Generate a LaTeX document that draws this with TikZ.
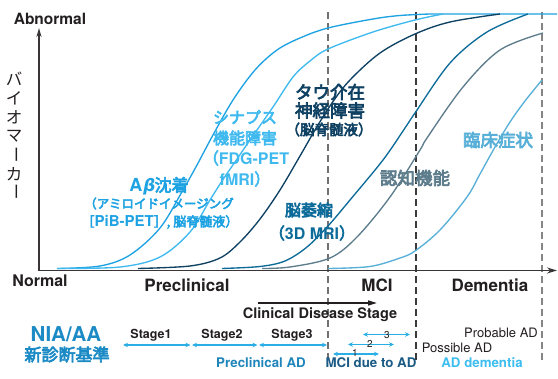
\documentclass[tikz,border=0pt]{standalone}
\usepackage{fontspec}
\setmainfont{TeX Gyre Heros}
\newfontfamily\jpr{Noto Sans CJK JP}
\newfontfamily\jp[FakeBold=4]{Noto Sans CJK JP}
\newfontfamily\grsl[FakeSlant=0.2]{DejaVu Sans}
\usetikzlibrary{arrows.meta}

\definecolor{cAb}{HTML}{1EA2E2}
\definecolor{cSyn}{HTML}{40BAEE}
\definecolor{cTau}{HTML}{0F4163}
\definecolor{cAtr}{HTML}{0D6B99}
\definecolor{cCog}{HTML}{5D7C8C}
\definecolor{cCli}{HTML}{58AFD7}
\definecolor{cStage}{HTML}{2AAEE6}
\definecolor{cNia}{HTML}{1B8AC5}
\definecolor{cPre}{HTML}{1F85BA}
\definecolor{cMci}{HTML}{1A5A84}
\definecolor{cDem}{HTML}{3DBDF0}
\definecolor{cTxt}{HTML}{231F20}
\definecolor{cDashA}{HTML}{707070}
\definecolor{cDashB}{HTML}{3A3A3A}
\definecolor{cDashC}{HTML}{858585}

\newcommand\fsz[1]{\fontsize{#1}{#1}\selectfont}

\begin{document}
\begin{tikzpicture}[x=1pt,y=-1pt,
  lab/.style={inner sep=0pt, outer sep=0pt},
  curve/.style={line width=1.35pt, smooth, tension=0.55},
  dashline/.style={line width=1.1pt, dash pattern=on 7pt off 4pt},
  stagearrow/.style={line width=1.1pt, cStage, {Stealth[length=5pt,width=4.5pt]}-{Stealth[length=5pt,width=4.5pt]}},
  ylab/.style={lab, font=\jpr\fsz{16.5}, text=cTxt},
  cjkb/.style={lab, font=\jp},
]
\useasboundingbox (0,0) rectangle (558,379);

% dashed stage boundaries
\coordinate (d1t) at (328,12); \coordinate (d1b) at (328,358);
\coordinate (d2t) at (416,12); \coordinate (d2b) at (416,360);
\coordinate (d3t) at (542,12); \coordinate (d3b) at (542,362);
\draw[dashline, cDashA] (d1t) -- (d1b);
\draw[dashline, cDashB] (d2t) -- (d2b);
\draw[dashline, cDashC] (d3t) -- (d3b);

% curves
\draw[curve, cAb] plot coordinates {(57,268.5) (100,266) (130,255) (160,228) (183,190) (197,165) (213,135) (233,100) (255,70) (277,50) (300,38) (328,28) (373,19) (400,15.5) (430,14)} -- (557,14);
\draw[curve, cSyn] plot coordinates {(57,268.5) (120,267) (160,257) (190,232) (210,200) (222,181) (235,162) (250,140) (273,107) (293,77) (310,61) (328,49) (373,32) (415,20) (443,14)};
\draw[curve, cTau] plot coordinates {(138,268.5) (190,266) (220,258) (240,242) (260,219) (280,190) (300,156) (315,130) (332,103) (350,80) (380,53) (415,34) (450,22) (500,14)};
\draw[curve, cAtr] plot coordinates {(222,268.5) (260,266.5) (285,261) (307,247) (328,226) (350,200) (383,160) (405,128) (415,113) (450,63) (487,32) (528,14)};
\draw[curve, cCog] plot coordinates {(262,268.5) (290,267) (330,258) (357,237) (390,197) (420,150) (427,138) (463,87) (500,50) (543,33)};
\draw[curve, cCli] plot coordinates {(328,268.5) (370,266.5) (400,258) (415,251) (440,230) (467,197) (480,174) (495,147) (510,122) (525,101) (542,80)};

% axes
\coordinate (Ytip) at (39,28);
\coordinate (O) at (39,270.5);
\coordinate (Xtip) at (557,270.5);
\draw[line width=1.6pt, cTxt!90, {Stealth[length=9pt,width=5pt]}-{Stealth[length=10pt,width=6pt]}] (Ytip) -- (O) -- (Xtip);

% y-axis label (vertical)
\node[ylab] (y1) at (14,79) {バ};
\node[ylab] (y2) at (14,98) {イ};
\node[ylab] (y3) at (14,117) {オ};
\node[ylab] (y4) at (14,136) {マ};
\node[ylab, rotate=-90] (y5) at (14,155) {ー};
\node[ylab] (y6) at (14,174) {カ};
\node[ylab, rotate=-90] (y7) at (14,192) {ー};

% axis texts
\node[lab, anchor=base, font=\bfseries\fsz{15.5}, text=cTxt] (abn) at (50,25) {Abnormal};
\node[lab, anchor=base, font=\bfseries\fsz{16}, text=cTxt] (nor) at (40,287) {Normal};
\node[lab, anchor=base, font=\bfseries\fsz{17}, text=cTxt] (pre) at (187,292) {Preclinical};
\node[lab, anchor=base, font=\bfseries\fsz{17}, text=cTxt] (mci) at (377,292) {MCI};
\node[lab, anchor=base, font=\bfseries\fsz{17}, text=cTxt] (dem) at (490,292) {Dementia};

% clinical disease stage arrow
\coordinate (cs1) at (258,303);
\coordinate (cs2) at (377,303);
\draw[line width=1.5pt, cTxt, -{Triangle[length=9pt,width=5pt]}] (cs1) -- (cs2);
\node[lab, anchor=base, font=\bfseries\fsz{14.5}, text=cTxt] (cds) at (320,319) {Clinical Disease Stage};

% NIA/AA
\node[lab, anchor=base, font=\bfseries\fsz{20.5}, text=cNia] (nia) at (66,342) {NIA/AA};
\node[cjkb, font=\jp\fsz{17}, text=cNia] (nia2) at (67,354.5) {新診断基準};

% stage arrows
\coordinate (s0) at (123,345); \coordinate (s1) at (190.5,345);
\coordinate (s1b) at (192,345); \coordinate (s2) at (257.5,345);
\coordinate (s2b) at (259,345); \coordinate (s3) at (327,345);
\draw[stagearrow] (s0) -- (s1);
\draw[stagearrow] (s1b) -- (s2);
\draw[stagearrow] (s2b) -- (s3);
\node[lab, anchor=base, font=\bfseries\fsz{12.5}, text=cTxt] (st1) at (151,339) {Stage1};
\node[lab, anchor=base, font=\bfseries\fsz{12.5}, text=cTxt] (st2) at (222,339) {Stage2};
\node[lab, anchor=base, font=\bfseries\fsz{12.5}, text=cTxt] (st3) at (292,339) {Stage3};

% MCI arrows
\coordinate (m1a) at (333,354); \coordinate (m1b) at (379,354);
\coordinate (m2a) at (348,344.5); \coordinate (m2b) at (394,344.5);
\coordinate (m3a) at (363,334.5); \coordinate (m3b) at (410,334.5);
\draw[stagearrow] (m1a) -- (m1b);
\draw[stagearrow] (m2a) -- (m2b);
\draw[stagearrow] (m3a) -- (m3b);
\node[lab, anchor=base, font=\fsz{10}, text=cTxt] (n1) at (355,356.5) {1};
\node[lab, anchor=base, font=\fsz{10}, text=cTxt] (n2) at (370,347.5) {2};
\node[lab, anchor=base, font=\fsz{10}, text=cTxt] (n3) at (387,338.5) {3};

\node[lab, anchor=base, font=\fsz{13}, text=cTxt] (prob) at (501,338) {Probable AD};
\node[lab, anchor=base, font=\fsz{13}, text=cTxt] (poss) at (457,353) {Possible AD};

% bottom category labels
\node[lab, anchor=base, font=\bfseries\fsz{13.3}, text=cPre] (lpre) at (261,368) {Preclinical AD};
\node[lab, anchor=base, font=\bfseries\fsz{13.3}, text=cMci] (lmci) at (371,368) {MCI due to AD};
\node[lab, anchor=base, font=\bfseries\fsz{13.3}, text=cDem] (ldem) at (482,368) {AD dementia};

% curve labels
\node[lab, text=cAb] (ab1) at (159,186) {{\bfseries\fsz{18}A}{\grsl\bfseries\fsz{17}β}{\jp\fsz{17}沈着}};
\node[cjkb, font=\jp\fsz{12.5}, text=cAb] (ab2) at (159,203.5) {（アミロイドイメージング};
\node[lab, text=cAb] (ab3) at (160,222) {{\jp\fsz{13}［}{\bfseries\fsz{15}PiB-PET}{\jp\fsz{13}］, 脳脊髄液）}};

\node[cjkb, font=\jp\fsz{16}, text=cSyn] (syn1) at (245,117) {シナプス};
\node[cjkb, font=\jp\fsz{16}, text=cSyn] (syn2) at (245,138) {機能障害};
\node[lab, text=cSyn] (syn3) at (246,158) {{\jp\fsz{16}（}{\bfseries\fsz{16}FDG-PET}};
\node[lab, text=cSyn] (syn4) at (245,179) {{\bfseries\fsz{16}fMRI}{\jp\fsz{16}）}};

\node[cjkb, font=\jp\fsz{17.5}, text=cTau] (tau1) at (330,92) {タウ介在};
\node[cjkb, font=\jp\fsz{17.5}, text=cTau] (tau2) at (330,110.5) {神経障害};
\node[cjkb, font=\jp\fsz{14.5}, text=cTau] (tau3) at (329,129.5) {（脳脊髄液）};

\node[cjkb, font=\jp\fsz{16}, text=cAtr] (atr1) at (309,210) {脳萎縮};
\node[lab, text=cAtr] (atr2) at (312,233) {{\jp\fsz{16}（}{\bfseries\fsz{16}3D MRI}{\jp\fsz{16}）}};

\node[cjkb, font=\jp\fsz{17.5}, text=cCog] (cog) at (415,178) {認知機能};
\node[cjkb, font=\jp\fsz{17.5}, text=cCli] (cli) at (498,140) {臨床症状};
\end{tikzpicture}
\end{document}
